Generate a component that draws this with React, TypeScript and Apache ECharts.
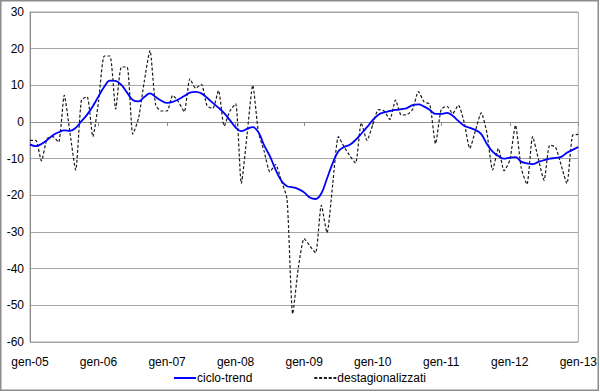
import React, { useEffect, useRef } from "react";
import * as echarts from "echarts";

const yearLabels = ["05", "06", "07", "08", "09", "10", "11", "12", "13"];
const months: string[] = [];
for (let y = 0; y < yearLabels.length; y++) {
  const n = y === yearLabels.length - 1 ? 1 : 12;
  for (let m = 0; m < n; m++) months.push(`${m + 1}-${yearLabels[y]}`);
}

const cicloTrend = [
  -6.1, -6.6, -6.0, -4.9, -3.6, -2.8, -2.3, -2.4, -1.6, 0.2,
  2.0, 4.3, 7.0, 9.6, 11.3, 11.2, 10.1, 8.0, 6.0, 5.6,
  6.8, 7.8, 6.8, 5.8, 5.2, 5.5, 6.2, 7.1, 8.0, 8.2,
  7.8, 6.6, 5.2, 3.9, 2.4, 0.5, -1.5, -2.5, -1.9, -1.4,
  -2.8, -6.4, -9.3, -13.0, -16.0, -17.5, -17.8, -18.3, -19.2, -20.6,
  -21.0, -19.5, -15.4, -11.2, -8.0, -6.8, -6.2, -4.9, -3.2, -1.4,
  0.5, 2.0, 2.6, 3.0, 3.3, 3.5, 3.8, 4.6, 4.8, 4.2,
  3.3, 2.2, 2.2, 2.5, 1.7, 0.3, -1.0, -1.6, -2.2, -3.3,
  -6.0, -8.1, -9.3, -10.0, -9.7, -9.6, -10.8, -11.3, -11.5, -10.9,
  -10.4, -10.0, -9.8, -9.5, -8.4, -7.6, -6.8,
];

const destagionalizzati = [
  -5, -5, -10.6, -4.5, -4, -5.5, 7.3, -3, -13.1, 6,
  6.9, -4, 5.5, 18, 18, 3.5, 15, 15, -3.3, 1,
  11, 19.5, 4.6, 3, 3, 7.3, 5.5, 2.8, 11.8, 9.2,
  10.3, 4.4, 3.7, 8.6, -1.1, 3, 5, -16.8, -3.5, 10,
  -2.8, -8, -13.6, -11.6, -16, -21, -52.3, -39.5, -31.8, -33.8,
  -35.7, -22.7, -30.2, -17, -4, -6.8, -9.2, -11.2, -0.2, -5,
  -0.8, 3.4, 3, 0.7, 6, 1.9, 2, 3.5, 8.3, 5.5,
  4.8, -5.9, 3.5, 4.3, 2.3, 4.6, 0, -7.2, -2.3, 2.5,
  -3, -13.1, -7.2, -13.3, -10.4, -0.9, -12.5, -17, -4, -10,
  -15.9, -6.3, -6.8, -11.8, -16.8, -3.6, -3.4,
];

const FONT = "'Liberation Sans', Arial, sans-serif";

const SOLID_ICON = "path://M0,0H22V2H0Z";
const DASH_ICON =
  "path://M0,0H3V2H0Z M4.8,0H7.8V2H4.8Z M9.6,0H12.6V2H9.6Z M14.4,0H17.4V2H14.4Z M19.2,0H22V2H19.2Z";

export default function App() {
  const ref = useRef<HTMLDivElement>(null);
  useEffect(() => {
    if (!ref.current) return;
    const chart = echarts.init(ref.current, null, { renderer: "svg" });
    chart.setOption({
      animation: false,
      backgroundColor: "#ffffff",
      textStyle: { fontFamily: FONT },
      graphic: [
        {
          type: "rect",
          shape: { x: 0.75, y: 0.75, width: 597.5, height: 389.5 },
          style: { fill: "none", stroke: "#8c8c8c", lineWidth: 1.5 },
          silent: true,
        },
      ],
      grid: {
        left: 30,
        right: 17,
        top: 12,
        bottom: 50,
        show: true,
        borderColor: "#a6a6a6",
        borderWidth: 1,
        backgroundColor: "transparent",
      },
      legend: {
        bottom: 3,
        left: "center",
        itemGap: 62,
        itemWidth: 22,
        itemHeight: 2,
        textStyle: {
          fontSize: 12,
          lineHeight: 12,
          fontFamily: FONT,
          color: "#000",
          padding: [0, 0, 0, -4],
        },
        data: [
          { name: "ciclo-trend", icon: SOLID_ICON, itemStyle: { color: "#0000ff" } },
          { name: "destagionalizzati", icon: DASH_ICON, itemStyle: { color: "#1a1a1a" } },
        ],
      },
      xAxis: [
        {
          type: "category",
          data: months,
          boundaryGap: false,
          position: "bottom",
          axisLine: { show: false, onZero: false },
          axisTick: { show: false },
          splitLine: { show: false },
          axisLabel: {
            interval: 11,
            margin: 14,
            fontSize: 12,
            lineHeight: 12,
            fontFamily: FONT,
            color: "#000",
            formatter: (v: string) => "gen-" + v.split("-")[1],
          },
        },
        {
          type: "category",
          data: months,
          boundaryGap: false,
          position: "bottom",
          axisLine: { show: true, onZero: true, lineStyle: { color: "#8c8c8c", width: 1 } },
          axisTick: { show: true, interval: 11, length: 4, lineStyle: { color: "#8c8c8c" } },
          axisLabel: { show: false },
          splitLine: { show: false },
        },
      ],
      yAxis: {
        type: "value",
        min: -60,
        max: 30,
        interval: 10,
        axisLine: { show: true, lineStyle: { color: "#8c8c8c" } },
        axisTick: { show: false },
        splitLine: { show: true, lineStyle: { color: "#a6a6a6", width: 1 } },
        axisLabel: { fontSize: 12, fontFamily: FONT, color: "#000", margin: 6 },
      },
      series: [
        {
          name: "ciclo-trend",
          type: "line",
          data: cicloTrend,
          xAxisIndex: 0,
          symbol: "none",
          smooth: 0.4,
          lineStyle: { color: "#0000ff", width: 1.8 },
          itemStyle: { color: "#0000ff" },
          z: 3,
        },
        {
          name: "destagionalizzati",
          type: "line",
          data: destagionalizzati,
          xAxisIndex: 0,
          symbol: "none",
          smooth: 0.2,
          lineStyle: { color: "#1a1a1a", width: 1.2, type: [3, 2] },
          itemStyle: { color: "#1a1a1a" },
          z: 2,
        },
      ],
    });
    return () => chart.dispose();
  }, []);
  return (
    <div
      ref={ref}
      style={{ position: "fixed", left: 0, top: 0, width: 600, height: 392 }}
    />
  );
}
